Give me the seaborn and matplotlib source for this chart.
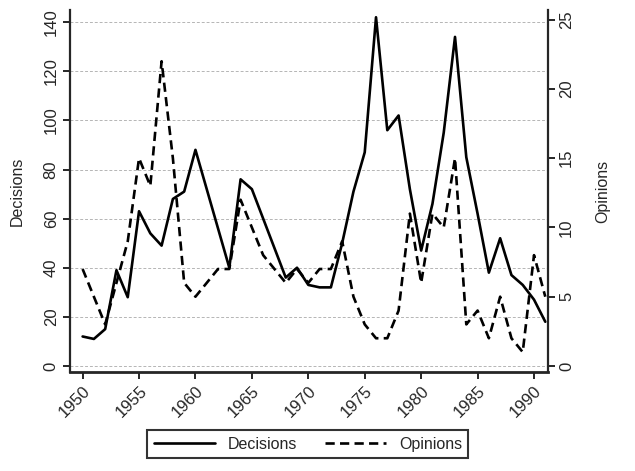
import matplotlib
matplotlib.use('Agg')
import matplotlib.pyplot as plt
import seaborn as sns

# values, one per year
years = list(range(1950, 1992))
decisions = [12, 11, 15, 39, 28, 63, 54, 49, 68, 71,
             88, 72, 56, 40, 76, 72, 60, 48, 36, 40,
             33, 32, 32, 50, 71, 87, 142, 96, 102, 72,
             47, 66, 95, 134, 85, 62, 38, 52, 37, 33,
             27, 18]
opinions = [7, 5, 3, 6, 9, 15, 13, 22, 15, 6,
            5, 6, 7, 7, 12, 10, 8, 7, 6, 7,
            6, 7, 7, 9, 5, 3, 2, 2, 4, 11,
            6, 11, 10, 15, 3, 4, 2, 5, 2, 1,
            8, 5]
left_ticks = [0, 20, 40, 60, 80, 100, 120, 140]
right_ticks = [0, 5, 10, 15, 20, 25]
x_ticks = [1950, 1955, 1960, 1965, 1970, 1975, 1980, 1985, 1990]

sns.set_style('white')
plt.rcParams['font.family'] = ['Liberation Sans', 'DejaVu Sans']

fig = plt.figure(figsize=(6.35, 4.71), dpi=100)
ax = fig.add_axes([0.110, 0.210, 0.753, 0.769])
ax2 = ax.twinx()

sns.lineplot(x=years, y=decisions, ax=ax, color='black', lw=1.9, label='Decisions', legend=False)
sns.lineplot(x=years, y=opinions, ax=ax2, color='black', lw=1.9, label='Opinions',
             linestyle=(0, (3.5, 2)), legend=False)

ylo, yhi = -2.5, 145
ax.set_ylim(ylo, yhi)
ax2.set_ylim(ylo * 25 / 141, yhi * 25 / 141)
ax.set_xlim(1948.87, 1991.24)

ax.set_yticks(left_ticks)
ax2.set_yticks(right_ticks)
ax.set_xticks(x_ticks)
ax.set_yticklabels([str(t) for t in left_ticks], rotation=90, va='center', fontsize=12)
ax2.set_yticklabels([str(t) for t in right_ticks], rotation=90, va='center', fontsize=12)
ax.set_xticklabels([str(t) for t in x_ticks], rotation=45, ha='right',
                   rotation_mode='anchor', fontsize=12)

for t in left_ticks:
    ax.axhline(t, color='#b5b5b5', lw=0.7, ls=(0, (3, 2)), zorder=0)

ax.set_ylabel('Decisions', fontsize=11.5, labelpad=14)
ax2.set_ylabel('Opinions', fontsize=11.5, labelpad=15)
ax.set_xlabel('')

for a in (ax, ax2):
    a.spines['top'].set_visible(False)
    a.tick_params(direction='out', length=5, width=1.4, pad=3)
ax.spines['left'].set_linewidth(1.6)
ax2.spines['right'].set_linewidth(1.6)
ax.spines['bottom'].set_linewidth(2)
ax2.spines['left'].set_visible(False)
ax.spines['right'].set_visible(False)
ax2.spines['bottom'].set_visible(False)
ax.tick_params(axis='y', left=True, right=False)
ax.tick_params(axis='x', bottom=True)
ax2.tick_params(axis='y', right=True, left=False)

h1, l1 = ax.get_legend_handles_labels()
h2, l2 = ax2.get_legend_handles_labels()
leg = fig.legend(h1 + h2, l1 + l2, loc='center', bbox_to_anchor=(0.485, 0.057), ncol=2,
                 fontsize=11.5, frameon=True, fancybox=False, edgecolor='black',
                 handlelength=3.8, columnspacing=1.8, borderpad=0.4)
leg.get_frame().set_linewidth(1.5)

fig.savefig('out.png', dpi=100)
